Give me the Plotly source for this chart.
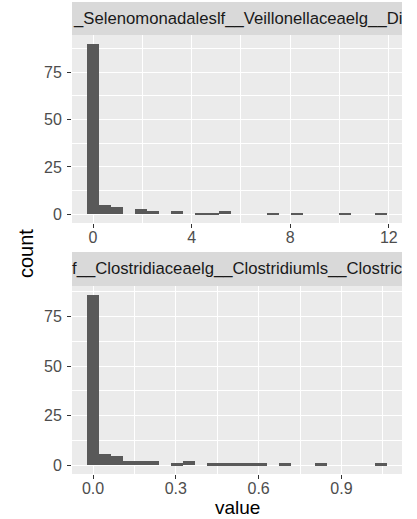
import numpy as np
import plotly.graph_objects as go

# Histogram counts per bin (25 equal-width bins, first bin centred on 0)
strip_labels = [
    "_Selenomonadaleslf__Veillonellaceaelg__Di",
    "f__Clostridiaceaelg__Clostridiumls__Clostric",
]
top_counts = [90, 5, 4, 0, 3, 2, 0, 2, 0, 1, 1, 2, 0, 0, 0, 1, 0, 1, 0, 0, 0, 1, 0, 0, 1]
bottom_counts = [86, 6, 5, 2, 2, 2, 0, 1, 2, 0, 1, 1, 1, 1, 1, 0, 1, 0, 0, 1, 0, 0, 0, 0, 1]
top_binwidth = 0.4868
bottom_binwidth = 0.04347
top_xticks = [0, 4, 8, 12]
top_xticklabels = ["0", "4", "8", "12"]
bottom_xticks = [0.0, 0.3, 0.6, 0.9]
bottom_xticklabels = ["0.0", "0.3", "0.6", "0.9"]
y_ticks = [0, 25, 50, 75]
y_ticklabels = ["0", "25", "50", "75"]

W, H = 417, 519
FONT = "Liberation Sans, Arial, Helvetica, sans-serif"
PANEL_BG = "#EBEBEB"
BAR = "#595959"


def bin_centres(counts, width):
    return np.arange(len(counts)) * width


def padded(lo, hi, frac=0.05):
    span = hi - lo
    return [lo - frac * span, hi + frac * span]


def px_x(p):
    return p / W


def px_y(p):
    return 1 - p / H


panel_x = [px_x(72), px_x(402)]
top_dom = [px_y(223), px_y(35)]
bot_dom = [px_y(474), px_y(286)]

fig = go.Figure()
fig.add_trace(go.Bar(x=bin_centres(top_counts, top_binwidth), y=top_counts,
                     width=top_binwidth, marker=dict(color=BAR, line=dict(width=0)),
                     xaxis="x", yaxis="y", showlegend=False))
fig.add_trace(go.Bar(x=bin_centres(bottom_counts, bottom_binwidth), y=bottom_counts,
                     width=bottom_binwidth, marker=dict(color=BAR, line=dict(width=0)),
                     xaxis="x2", yaxis="y2", showlegend=False))

top_xr = padded(-top_binwidth / 2, (len(top_counts) - 0.5) * top_binwidth)
bot_xr = padded(-bottom_binwidth / 2, (len(bottom_counts) - 0.5) * bottom_binwidth)
top_yr = padded(0, max(top_counts))
bot_yr = padded(0, max(bottom_counts))

tickfont = dict(family=FONT, size=16, color="#4D4D4D")


def xaxis(dom_anchor, rng, vals, labels, minor_dtick, minor_tick0):
    return dict(domain=panel_x, anchor=dom_anchor, range=rng, tickvals=vals, ticktext=labels,
                showgrid=True, gridcolor="white", gridwidth=1.4, zeroline=False,
                ticks="outside", ticklen=4, tickwidth=1.1, tickcolor="#333333",
                tickfont=tickfont, showline=False, ticklabelstandoff=-4,
                minor=dict(tick0=minor_tick0, dtick=minor_dtick, showgrid=True,
                           gridcolor="white", gridwidth=0.6, ticks=""))


def yaxis(dom, dom_anchor, rng):
    return dict(domain=dom, anchor=dom_anchor, range=rng, tickvals=y_ticks, ticktext=y_ticklabels,
                showgrid=True, gridcolor="white", gridwidth=1.4, zeroline=False,
                ticks="outside", ticklen=4, tickwidth=1.1, tickcolor="#333333",
                tickfont=tickfont, showline=False, ticklabelstandoff=2,
                minor=dict(tick0=12.5, dtick=25, showgrid=True,
                           gridcolor="white", gridwidth=0.6, ticks=""))


shapes = []
annotations = []
for (y0, y1), label in zip([(2, 35), (252, 286)], strip_labels):
    shapes.append(dict(type="rect", xref="paper", yref="paper",
                       x0=panel_x[0], x1=panel_x[1], y0=px_y(y1), y1=px_y(y0),
                       fillcolor="#D9D9D9", line=dict(width=0), layer="below"))
    annotations.append(dict(text=label, xref="paper", yref="paper",
                            x=px_x(237), y=px_y((y0 + y1) / 2), xanchor="center", yanchor="middle",
                            showarrow=False, font=dict(family=FONT, size=16.7, color="#1A1A1A")))

annotations.append(dict(text="count", xref="paper", yref="paper", x=px_x(26), y=px_y(254),
                        xanchor="center", yanchor="middle", textangle=-90, showarrow=False,
                        font=dict(family=FONT, size=20, color="black")))
annotations.append(dict(text="value", xref="paper", yref="paper", x=px_x(237), y=px_y(507),
                        xanchor="center", yanchor="middle", showarrow=False,
                        font=dict(family=FONT, size=19, color="black")))

fig.update_layout(
    width=W, height=H, margin=dict(l=0, r=0, t=0, b=0),
    paper_bgcolor="white", plot_bgcolor=PANEL_BG,
    bargap=0, barmode="overlay",
    xaxis=xaxis("y", top_xr, top_xticks, top_xticklabels, 4, 2),
    yaxis=yaxis(top_dom, "x", top_yr),
    xaxis2=xaxis("y2", bot_xr, bottom_xticks, bottom_xticklabels, 0.3, 0.15),
    yaxis2=yaxis(bot_dom, "x2", bot_yr),
    shapes=shapes, annotations=annotations,
)

fig.write_html("out.html")
